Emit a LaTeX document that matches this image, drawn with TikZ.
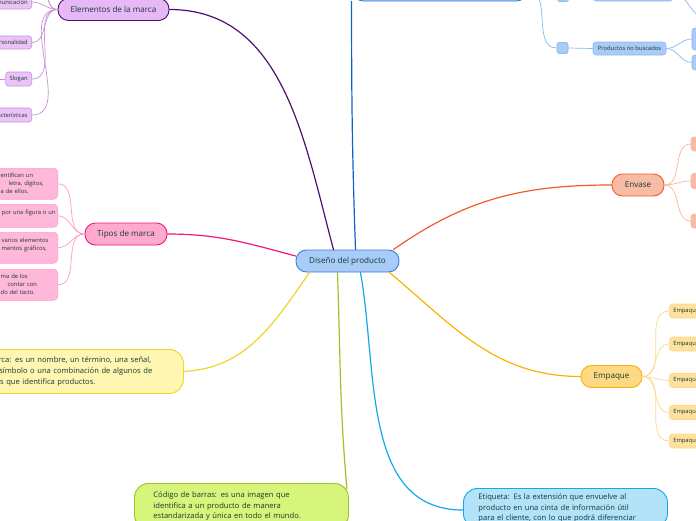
\documentclass[tikz,border=0pt]{standalone}
\usepackage{fontspec}
\setmainfont{Open Sans}
\usepackage{tikz}
\usetikzlibrary{positioning}
\definecolor{inkgreen}{rgb}{0.09,0.22,0.2}
\definecolor{rootfill}{HTML}{A8CBF7}
\definecolor{rootline}{HTML}{3B7DDD}
\definecolor{navyline}{HTML}{1060D0}
\definecolor{bluesoft}{HTML}{8DB8F2}
\definecolor{plumline}{HTML}{500F6E}
\definecolor{plumfill}{HTML}{E6B8F5}
\definecolor{plumsoft}{HTML}{C88FDA}
\definecolor{plumleaf}{HTML}{EBC3F7}
\definecolor{pinkline}{HTML}{F0187A}
\definecolor{pinkfill}{HTML}{FFA9CF}
\definecolor{pinksoft}{HTML}{FF9CC8}
\definecolor{pinkleaf}{HTML}{FFB8D9}
\definecolor{lemonline}{HTML}{EDD628}
\definecolor{lemonfill}{HTML}{FFF6B2}
\definecolor{limeline}{HTML}{9BC42A}
\definecolor{limefill}{HTML}{D7F47B}
\definecolor{skyline}{HTML}{12A8EE}
\definecolor{skyfill}{HTML}{B2E3F9}
\definecolor{coralline}{HTML}{F45A28}
\definecolor{coralfill}{HTML}{F8BBA4}
\definecolor{coralsoft}{HTML}{F9B59C}
\definecolor{amberline}{HTML}{F9B200}
\definecolor{amberfill}{HTML}{FDD983}
\definecolor{ambersoft}{HTML}{FCD98A}

\begin{document}
\begin{tikzpicture}[line cap=round,line join=round,x=1pt,y=-1pt,
  topic/.style={line width=0.9pt,rounded corners=10.5pt,minimum height=22pt,inner sep=0pt,
    font=\fontsize{8.1}{9.5}\selectfont,text=inkgreen},
  note/.style={line width=0.9pt,rounded corners=14pt,anchor=north west,align=left,
    font=\fontsize{7.6}{10.8}\selectfont,text=inkgreen},
  leaf/.style={line width=0.6pt,rounded corners=3pt,minimum height=14pt,inner xsep=4pt,inner ysep=0pt,
    font=\fontsize{5.8}{8}\selectfont,text=inkgreen},
  leafnote/.style={line width=0.6pt,rounded corners=4pt,anchor=north east,align=left,text width=60pt,
    inner xsep=3pt,inner ysep=3pt,font=\fontsize{5.8}{8}\selectfont,text=inkgreen},
  branch/.style={line width=1.2pt},
  twig/.style={line width=0.7pt}]
\useasboundingbox (0,0) rectangle (696,520);
\clip (0,0) rectangle (696,520);

\node[topic,draw=rootline,fill=rootfill,minimum width=103pt] (root) at (347.5,261) {Diseño del producto};

\node[topic,draw=plumline,fill=plumfill,minimum width=111pt] (elementos) at (113.5,9.5) {Elementos de la marca};
\node[topic,draw=pinkline,fill=pinkfill,minimum width=82pt] (tipos) at (126,234) {Tipos de marca};
\node[topic,draw=coralline,fill=coralfill,minimum width=52pt] (envase) at (638,185) {Envase};
\node[topic,draw=amberline,fill=amberfill,minimum width=61pt] (empaque) at (611.5,376.5) {Empaque};
\node[topic,draw=rootline,fill=rootfill,minimum width=174pt] (clases) at (440,-10) {};

\node[note,draw=lemonline,fill=lemonfill,text width=184pt,inner xsep=12pt,inner ysep=0pt,minimum height=44pt]
  (marca) at (-25,349) {Marca: es un nombre, un término, una señal,\\un símbolo o una combinación de algunos de\\ellos que identifica productos.};
\node[note,draw=limeline,fill=limefill,text width=176pt,inner xsep=19pt,inner ysep=8pt]
  (codigo) at (134,483) {Código de barras: es una imagen que\\identifica a un producto de manera\\estandarizada y única en todo el mundo.};
\node[note,draw=skyline,fill=skyfill,text width=174pt,inner xsep=15pt,inner ysep=5pt]
  (etiqueta) at (463,488) {Etiqueta: Es la extensión que envuelve al\\producto en una cinta de información útil\\para el cliente, con lo que podrá diferenciar};

\node[leaf,draw=plumsoft,fill=plumleaf,anchor=east] (comunicacion) at (32,2) {Comunicación};
\node[leaf,draw=plumsoft,fill=plumleaf,anchor=east,minimum height=13pt] (personalidad) at (32,42.5) {Personalidad};
\node[leaf,draw=plumsoft,fill=plumleaf,anchor=east] (slogan) at (32,79) {Slogan};
\node[leaf,draw=plumsoft,fill=plumleaf,anchor=east] (caracteristicas) at (32,115) {Características};
\coordinate (plumA) at (36,-22);
\coordinate (plumB) at (40,-40);
\coordinate (sloganL) at (-12,79);

\node[leafnote,draw=pinksoft,fill=pinkleaf,minimum height=31pt] (denominativa) at (58,168)
  {\hspace*{6pt}entifican un\\\hspace*{14pt}letra, dígitos,\\\hspace*{6pt}a de ellos.};
\node[leafnote,draw=pinksoft,fill=pinkleaf,minimum height=23pt] (figurativa) at (58,204)
  {\hspace*{7pt}\mbox{por una figura o un}\\~};
\node[leafnote,draw=pinksoft,fill=pinkleaf,minimum height=31pt] (mixta) at (58,232)
  {\hspace*{7pt}varios elementos\\\hspace*{7pt}mentos gráficos,\\~};
\node[leafnote,draw=pinksoft,fill=pinkleaf,minimum height=31pt] (tactil) at (58,269)
  {\hspace*{6pt}ma de los\\\hspace*{13pt}contar con\\\hspace*{6pt}do del tacto.};

\node[leaf,draw=bluesoft,fill=rootfill,minimum width=11pt,minimum height=11pt,inner sep=0pt,rounded corners=2pt] (cajaA) at (563,-4) {};
\node[leaf,draw=bluesoft,fill=rootfill,minimum width=11pt,minimum height=11pt,inner sep=0pt,rounded corners=2pt] (cajaB) at (562.5,48) {};
\node[leaf,draw=bluesoft,fill=rootfill,minimum width=80pt] (consumo) at (633,-6) {};
\node[leaf,draw=bluesoft,fill=rootfill,minimum width=73pt,minimum height=13pt] (nobuscados) at (629.5,48.5) {Productos no buscados};
\node[leaf,draw=bluesoft,fill=rootfill,minimum width=56pt,minimum height=22pt] (nobA) at (720,39) {};
\node[leaf,draw=bluesoft,fill=rootfill,minimum width=56pt,minimum height=15pt] (nobB) at (720,62.5) {};
\coordinate (consumoR) at (706,18);

\node[leaf,draw=coralsoft,fill=coralfill,minimum width=40pt] (envA) at (711,144) {};
\node[leaf,draw=coralsoft,fill=coralfill,minimum width=40pt,minimum height=15pt] (envB) at (711,181) {};
\node[leaf,draw=coralsoft,fill=coralfill,minimum width=40pt] (envC) at (711,221) {};

\foreach \n/\y in {empA/311,empB/344,empC/380.5,empD/412.5,empE/441}
  \node[leaf,draw=ambersoft,fill=amberfill!80,anchor=west,minimum width=60pt,align=left,text width=52pt] (\n) at (669,\y) {Empaque};

\draw[branch,plumline] ([xshift=-14pt]root.north) to[out=105,in=0] (elementos.east);
\draw[branch,pinkline] ([yshift=5pt]root.west) to[out=165,in=0] (tipos.east);
\draw[branch,lemonline] ([xshift=-38pt]root.south) to[out=235,in=3] (marca.east);
\draw[branch,limeline] ([xshift=-10pt]root.south) to[out=-88,in=95] ([xshift=-2pt,yshift=-6pt]codigo.north east);
\draw[branch,skyline] ([xshift=13pt]root.south) to[out=-80,in=180] ([yshift=-22pt]etiqueta.north west);
\draw[branch,coralline] ([xshift=-6pt]root.north east) to[out=35,in=180] (envase.west);
\draw[branch,amberline] ([xshift=-10pt]root.south east) to[out=-40,in=180] (empaque.west);
\draw[branch,navyline] ([xshift=8pt]root.north) to[out=92,in=-90] ([xshift=-1pt]clases.south west);

\foreach \n in {comunicacion,personalidad,slogan,caracteristicas,plumA,plumB}
  \draw[twig,plumsoft] (elementos.west) to[out=180,in=0] (\n);
\draw[twig,plumsoft] (slogan.west) -- (sloganL);

\foreach \n in {denominativa,figurativa,mixta,tactil}
  \draw[twig,pinksoft] (tipos.west) to[out=180,in=0] (\n.east);

\draw[twig,bluesoft] (clases.east) to[out=0,in=180] (cajaA.west);
\draw[twig,bluesoft] (clases.east) to[out=0,in=180] (cajaB.west);
\draw[twig,bluesoft] (cajaA.east) -- (consumo.west);
\draw[twig,bluesoft] (cajaB.east) -- (nobuscados.west);
\draw[twig,bluesoft] (consumo.east) to[out=0,in=180] (consumoR);
\foreach \n in {nobA,nobB}
  \draw[twig,bluesoft] (nobuscados.east) to[out=0,in=180] (\n.west);

\foreach \n in {envA,envB,envC}
  \draw[twig,coralsoft] (envase.east) to[out=0,in=180] (\n.west);
\foreach \n in {empA,empB,empC,empD,empE}
  \draw[twig,ambersoft] (empaque.east) to[out=0,in=180] (\n.west);
\end{tikzpicture}
\end{document}
